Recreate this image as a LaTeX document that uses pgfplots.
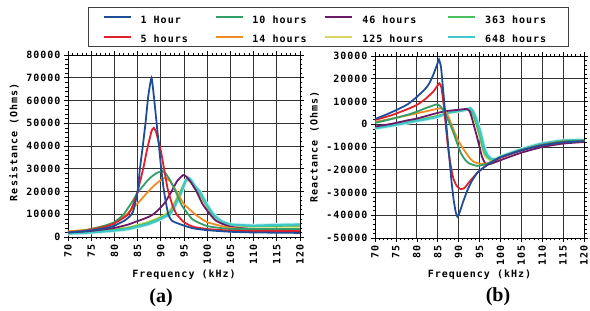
\documentclass[border=0pt]{standalone}
\usepackage{fontspec}
\usepackage{pgfplots}
\pgfplotsset{compat=1.18}
\newfontfamily\pix{DejaVu Sans Mono}[LetterSpace=10]
\newfontfamily\serifb{Liberation Serif}
\definecolor{cA}{RGB}{31,78,153}
\definecolor{cB}{RGB}{224,32,42}
\definecolor{cC}{RGB}{52,158,104}
\definecolor{cD}{RGB}{240,140,40}
\definecolor{cE}{RGB}{106,26,106}
\definecolor{cF}{RGB}{214,214,100}
\definecolor{cG}{RGB}{76,192,90}
\definecolor{cH}{RGB}{64,200,200}
\newcommand{\pf}{\pix\bfseries\fontsize{10}{12}\selectfont}
\newcommand{\lgent}[2]{\makebox[#1][l]{\rule[-7pt]{0pt}{21pt}#2}}
\pgfplotsset{
  common/.style={
    scale only axis, height=182pt,
    xmin=70, xmax=120, xtick={70,75,...,120},
    minor x tick num=4, minor y tick num=4,
    grid=major, major grid style={draw=black!80, line width=0.8pt},
    axis line style={black, line width=0.8pt},
    tick align=outside, major tick length=4pt, minor tick length=2.5pt,
    tick style={black, line width=0.6pt},
    scaled y ticks=false,
    /pgf/number format/1000 sep={},
    /pgf/number format/assume math mode=true,
    tick label style={font=\pf},
    xticklabel style={rotate=90, anchor=east},
    label style={font=\pf},
    every axis plot/.append style={line width=1.8pt, smooth, tension=0.3},
  }
}
\begin{document}
\begin{tikzpicture}
\useasboundingbox (0,0) rectangle (590pt,311pt);
% ---------------- (a) Resistance
\begin{axis}[common, at={(68pt,74pt)}, anchor=south west, width=232pt,
  ymin=0, ymax=80000, ytick={0,10000,...,80000},
  xlabel={Frequency (kHz)}, ylabel={Resistance (Ohms)},
  xlabel style={at={(axis description cs:0.5,-0.205)}, anchor=center},
  ylabel style={at={(axis description cs:-0.233,0.52)}, anchor=center},
]
% 648 halo
\addplot[cH!25, line width=4pt] coordinates {(70,1500)(75,2000)(80,2800)(83,3500)(85,4500)(87,5500)(89,7000)(91,9000)(92,10000)(93,13500)(94.5,20000)(95.3,24500)(95.9,26000)(96.5,25000)(97.5,22000)(98.4,20000)(100,14000)(101.3,10000)(103,7000)(105,5500)(110,5000)(115,5300)(120,5500)};
% 125
\addplot[cF] coordinates {(70,2000)(75,2600)(80,3500)(83,4300)(85,5300)(87,6500)(89,8000)(91,10000)(92,12000)(93,15500)(94.5,21500)(95.5,25000)(96.5,24000)(97.5,21000)(98.4,18500)(100,13000)(101.3,9500)(103,6800)(105,5200)(110,4500)(120,4500)};
% 363
\addplot[cG] coordinates {(70,1800)(75,2300)(80,3200)(83,4000)(85,5000)(87,6000)(89,7500)(91,9500)(92,11000)(93,14500)(94.5,21000)(95.6,25500)(96.5,24500)(97.5,21500)(98.4,19000)(100,13500)(101.3,9500)(103,7000)(105,5500)(110,4800)(120,5000)};
% 648
\addplot[cH, line width=2.2pt] coordinates {(70,1500)(75,2000)(80,2800)(83,3500)(85,4500)(87,5500)(89,7000)(91,9000)(92,10000)(93,13500)(94.5,20000)(95.3,24500)(95.9,26000)(96.5,25000)(97.5,22000)(98.4,20000)(100,14000)(101.3,10000)(103,7000)(105,5500)(110,5000)(115,5300)(120,5500)};
% 46
\addplot[cE] coordinates {(70,2000)(75,2700)(80,4000)(83,5500)(85,7000)(87,8500)(88.4,10000)(90,13000)(91,15500)(92.3,20000)(93.5,24500)(94.8,27200)(95.5,26500)(96.5,24000)(97.7,20000)(99,14500)(100.6,10000)(102,7000)(105,4500)(110,3500)(120,3000)};
% 14
\addplot[cD] coordinates {(70,2500)(74,3200)(78,5000)(80,6500)(82.6,10000)(84,12500)(86,17000)(87.3,20000)(88.5,22500)(90,25000)(91,26000)(92,24500)(93.4,20000)(95,14500)(97.4,10000)(100,6500)(105,4000)(110,3500)(120,3500)};
% 10
\addplot[cC] coordinates {(70,2000)(74,3000)(78,5000)(80,6500)(82,10000)(84,16000)(85,19500)(86,22000)(87,24500)(88,26500)(89,28000)(90.3,29000)(91,28000)(92,25000)(93.2,20000)(94.5,14000)(95.9,10000)(97,7500)(100,4800)(105,3500)(110,3500)(120,3500)};
% 5
\addplot[cB] coordinates {(70,2000)(74,2800)(78,4500)(80,6000)(82,8500)(83,10000)(84,14000)(85,20000)(86.2,30000)(87,38000)(88,46500)(88.5,48000)(89,46000)(90,38000)(90.7,30000)(91.5,21000)(92.5,14000)(93.4,10000)(95,6500)(97,4500)(100,3500)(105,2800)(110,2600)(120,2600)};
% 1
\addplot[cA] coordinates {(70,2000)(74,2600)(78,3800)(80,5000)(82,7000)(83,8500)(84,11000)(85,20000)(85.5,30000)(86,38000)(86.7,50000)(87.3,62000)(88,70000)(88.5,62000)(89.1,50000)(90.1,30000)(90.7,20000)(91.6,10000)(92.5,7000)(95,5000)(97,3800)(100,3000)(105,2300)(110,2000)(120,1800)};
\end{axis}
% ---------------- (b) Reactance
\begin{axis}[common, at={(375pt,73pt)}, anchor=south west, width=209pt,
  ymin=-50000, ymax=30000, ytick={-50000,-40000,...,30000},
  xlabel={Frequency (kHz)}, ylabel={Reactance (Ohms)},
  xlabel style={at={(axis description cs:0.5,-0.2)}, anchor=center},
  ylabel style={at={(axis description cs:-0.29,0.5)}, anchor=center},
]
\addplot[cH!25, line width=4pt] coordinates {(70,-1800)(74,-600)(78,800)(80,1500)(83,2500)(85,3300)(86.5,4300)(88,5300)(90,5800)(91.5,6300)(92.8,7000)(93.5,5500)(94.3,2000)(95.2,-3300)(95.8,-8000)(96.3,-11300)(97,-13800)(97.8,-15200)(99,-15400)(100,-14300)(105,-11000)(110,-8500)(115,-7200)(120,-7000)};
\addplot[cF] coordinates {(70,-1300)(74,0)(78,1300)(80,2000)(83,3000)(85,3800)(88,5000)(90,5700)(92.5,6500)(93.3,4500)(94,1000)(95,-5500)(95.7,-11000)(96.3,-14000)(97.5,-15800)(99,-15700)(100,-14700)(105,-11300)(110,-8700)(115,-7200)(120,-7000)};
\addplot[cG] coordinates {(70,-1500)(74,-300)(78,1000)(80,1800)(83,2800)(85,3600)(88,5200)(90,5800)(92.5,6700)(93.3,5000)(94,1500)(95,-4500)(95.7,-10000)(96.3,-13000)(97.5,-15300)(99,-15500)(100,-14500)(105,-11200)(110,-8600)(115,-7200)(120,-7000)};
\addplot[cH, line width=2.2pt] coordinates {(70,-1800)(74,-600)(78,800)(80,1500)(83,2500)(85,3300)(86.5,4300)(88,5300)(90,5800)(91.5,6300)(92.8,7000)(93.5,5500)(94.3,2000)(95.2,-3300)(95.8,-8000)(96.3,-11300)(97,-13800)(97.8,-15200)(99,-15400)(100,-14300)(105,-11000)(110,-8500)(115,-7200)(120,-7000)};
\addplot[cE] coordinates {(70,-1000)(74,200)(78,1800)(80,2500)(83,4000)(85,5000)(87,5800)(89.7,6300)(92,6700)(92.7,5500)(93.2,2600)(93.8,-1500)(94.4,-5500)(95,-10000)(95.6,-14300)(96.4,-17200)(97.5,-17500)(99,-16500)(100,-15800)(105,-12500)(110,-10000)(115,-8500)(120,-7800)};
\addplot[cD] coordinates {(70,1000)(74,2500)(78,4000)(80,4800)(83,6000)(85.4,7000)(86.5,6500)(87.5,3500)(89,-3300)(90,-7500)(91.3,-11300)(92.5,-14500)(93.6,-16500)(95,-17300)(96,-17500)(97.5,-16800)(100,-14700)(105,-11500)(110,-9000)(115,-7500)(120,-7300)};
\addplot[cC] coordinates {(70,600)(74,2300)(78,4300)(80,5500)(82,7000)(84.9,8800)(85.8,7500)(86.8,4500)(88.2,-1000)(89.3,-6500)(90.5,-12500)(91.5,-15500)(92.5,-17200)(94.4,-18300)(96,-17800)(97.5,-16800)(100,-14500)(105,-11300)(110,-9000)(115,-7500)(120,-7300)};
\addplot[cB] coordinates {(70,1900)(74,4000)(78,6800)(80,8500)(82,11000)(84,14500)(85.4,18000)(85.9,16000)(86.4,9000)(86.9,0)(87.4,-9000)(88,-17000)(88.7,-23500)(89.5,-27000)(90.5,-28500)(91.4,-28000)(92.5,-25500)(94.4,-21500)(96,-19000)(97.5,-17200)(100,-14700)(105,-11500)(110,-9300)(115,-8000)(120,-7500)};
\addplot[cA] coordinates {(70,2300)(73,4500)(76,7000)(78,9000)(80,12000)(82,15500)(83,18000)(84,22000)(85,27000)(85.3,28500)(85.8,25000)(86.3,15000)(86.8,5000)(87.3,-5000)(87.8,-15000)(88.3,-25000)(88.8,-33000)(89.3,-38500)(89.7,-40600)(90.2,-39000)(91,-34500)(92,-29500)(93,-25500)(94.4,-21500)(96,-19000)(97.5,-17200)(100,-14500)(105,-11500)(110,-9300)(115,-8000)(120,-7500)};
\end{axis}
% ---------------- legend
\begin{axis}[at={(0pt,0pt)}, anchor=south west, scale only axis, width=590pt, height=311pt,
  hide axis, xmin=0, xmax=1, ymin=0, ymax=1,
  legend columns=4, legend cell align=left,
  legend image code/.code={\draw[#1] (0pt,0pt) -- (27pt,0pt); \path (34pt,0pt);},
  legend style={at={(axis description cs:0.5559,0.9132)}, anchor=center,
    draw=black!75, font=\pf, inner xsep=15pt, inner ysep=0pt},
]
\addlegendimage{color=cA, line width=1.8pt}\addlegendentry{\lgent{72pt}{1 Hour}}
\addlegendimage{color=cC, line width=1.8pt}\addlegendentry{\lgent{70pt}{10 hours}}
\addlegendimage{color=cE, line width=1.8pt}\addlegendentry{\lgent{83pt}{46 hours}}
\addlegendimage{color=cG, line width=1.8pt}\addlegendentry{\lgent{66pt}{363 hours}}
\addlegendimage{color=cB, line width=1.8pt}\addlegendentry{\lgent{72pt}{5 hours}}
\addlegendimage{color=cD, line width=1.8pt}\addlegendentry{\lgent{70pt}{14 hours}}
\addlegendimage{color=cF, line width=1.8pt}\addlegendentry{\lgent{83pt}{125 hours}}
\addlegendimage{color=cH, line width=1.8pt}\addlegendentry{\lgent{66pt}{648 hours}}
\end{axis}
\node[font=\serifb\bfseries\fontsize{20}{20}\selectfont] at (161pt,13pt) {(a)};
\node[font=\serifb\bfseries\fontsize{20}{20}\selectfont] at (498pt,14pt) {(b)};
\end{tikzpicture}
\end{document}
